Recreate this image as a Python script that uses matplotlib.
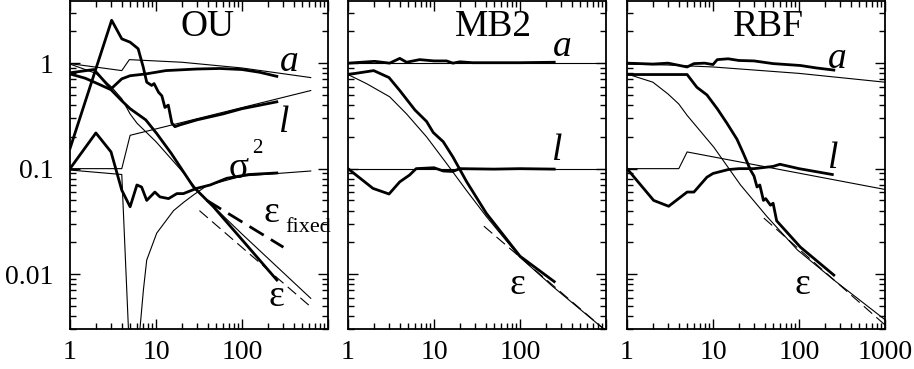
import numpy as np
from matplotlib import pyplot as plt
from matplotlib.ticker import LogLocator, NullFormatter

plt.rcParams.update({"font.family": "Liberation Serif", "font.size": 20})

# ---- OU panel ----
ou_a_th_x = [1, 4, 4.9, 20, 100, 630]
ou_a_th_y = [0.99, 0.85, 1.08, 1.02, 0.9, 0.73]
ou_a_x = [1, 1.9, 3.0, 4.0, 5.0, 7.6, 13, 30, 55, 100, 160, 254]
ou_a_y = [0.81, 0.87, 0.57, 0.71, 0.76, 0.79, 0.85, 0.88, 0.89, 0.87, 0.82, 0.75]
ou_l_th_x = [1, 4, 5, 630]
ou_l_th_y = [0.1, 0.1, 0.207, 0.55]
ou_l_x = [1, 3.05, 4.0, 5.0, 6.2, 7.1, 7.8, 8.9, 9.5, 10.7, 11.7, 12.7, 13.9,
          15.3, 16.6, 19, 30, 60, 100, 254]
ou_l_y = [0.155, 2.55, 1.7, 1.58, 1.37, 0.92, 0.66, 0.615, 0.64, 0.53, 0.49,
          0.38, 0.40, 0.27, 0.25, 0.26, 0.29, 0.33, 0.37, 0.43]
ou_s2_th_x = [1, 4, 4.8, 5.2, 6.3, 6.5, 7.14, 7.8, 10.2, 16, 21, 27, 39, 100, 630]
ou_s2_th_y = [0.097, 0.088, 0.0028, 0.0005, 0.0005, 0.003, 0.0071, 0.0136,
              0.0245, 0.04, 0.048, 0.056, 0.069, 0.085, 0.095]
ou_s2_x = [1, 2.0, 3.0, 4.0, 5.0, 6.0, 6.8, 7.8, 9.7, 11.1, 14, 17.5, 20.8,
           29.7, 42.6, 66.5, 120, 254]
ou_s2_y = [0.1, 0.218, 0.144, 0.0625, 0.0435, 0.07, 0.067, 0.05, 0.06, 0.054,
           0.052, 0.058, 0.058, 0.065, 0.07, 0.081, 0.088, 0.091]
ou_e_th_x = [1, 2, 3, 4, 5, 6, 10, 20, 32.6, 100, 630]
ou_e_th_y = [0.98, 0.8, 0.6, 0.46, 0.33, 0.27, 0.18, 0.095, 0.058, 0.024, 0.0059]
ou_e_x = [1, 1.5, 2, 3, 4, 5, 7.6, 10.2, 15, 27.3, 46.6, 100, 254]
ou_e_y = [0.79, 0.72, 0.65, 0.56, 0.44, 0.37, 0.29, 0.215, 0.14, 0.067, 0.0435,
          0.0212, 0.0088]
ou_asym_x = [32, 630]
ou_asym_y = [0.04, 0.0049]
ou_fixed_x = [39, 303]
ou_fixed_y = [0.05, 0.018]

# ---- MB2 panel ----
mb_a_th_x = [1, 1000]
mb_a_th_y = [1.0, 1.0]
mb_a_x = [1, 2.04, 3.05, 4.0, 4.8, 6.8, 10, 14, 16.6, 20, 28, 56, 100, 250]
mb_a_y = [1.0, 1.04, 1.0, 1.11, 1.02, 1.08, 1.05, 1.05, 1.0, 1.03, 1.01, 1.01,
          1.01, 1.02]
mb_l_th_x = [1, 1000]
mb_l_th_y = [0.1, 0.1]
mb_l_x = [1, 1.95, 3.0, 4.0, 5.2, 6.2, 10, 12.8, 16.5, 20, 50, 100, 250]
mb_l_y = [0.1, 0.065, 0.0575, 0.075, 0.087, 0.1, 0.102, 0.095, 0.094, 0.1,
          0.099, 0.1, 0.099]
mb_e_th_x = [1, 1.64, 3.05, 4.8, 8.2, 14, 23.9, 40.8, 99.6, 242, 1000]
mb_e_th_y = [0.78, 0.64, 0.48, 0.33, 0.2, 0.112, 0.062, 0.035, 0.0145, 0.0076,
             0.0029]
mb_e_x = [1, 1.99, 3.0, 4.0, 6.0, 8.2, 9.8, 12.8, 16.6, 24, 40.8, 100, 250]
mb_e_y = [0.78, 0.85, 0.73, 0.55, 0.36, 0.28, 0.22, 0.18, 0.129, 0.075, 0.0375,
          0.0148, 0.0085]
mb_asym_x = [38, 1000]
mb_asym_y = [0.0285, 0.0029]

# ---- RBF panel ----
rb_a_th_x = [1, 3, 10, 100, 1000]
rb_a_th_y = [0.98, 0.96, 0.92, 0.8, 0.66]
rb_a_x = [1, 2, 3, 5, 6, 8, 10, 11.2, 15, 20, 30, 50, 104, 160, 254]
rb_a_y = [1.0, 0.98, 1.0, 0.92, 0.99, 1.0, 0.97, 1.08, 1.1, 1.06, 1.05, 0.99,
          0.95, 0.9, 0.86]
rb_l_th_x = [1, 4, 5, 1000]
rb_l_th_y = [0.1, 0.1, 0.144, 0.0635]
rb_l_x = [1, 2.04, 3.05, 5, 6, 8.5, 10, 15, 20, 30, 50, 60, 100, 244]
rb_l_y = [0.1, 0.05, 0.044, 0.06, 0.06, 0.083, 0.09, 0.098, 0.1, 0.1, 0.105,
          0.11, 0.1, 0.088]
rb_e_th_x = [1, 2, 3, 4, 5, 10.2, 20.9, 42.6, 95.6, 254, 1000]
rb_e_th_y = [0.79, 0.66, 0.51, 0.41, 0.32, 0.16, 0.07, 0.035, 0.017, 0.0088,
             0.0037]
rb_e_x = [1, 3, 5, 6.5, 8.5, 11.2, 14.5, 19, 22.5, 27.3, 30, 32.5, 35, 38.6,
          41, 46.6, 50, 55, 104, 254]
rb_e_y = [0.78, 0.78, 0.78, 0.59, 0.5, 0.37, 0.27, 0.19, 0.14, 0.097, 0.085,
          0.067, 0.07, 0.05, 0.052, 0.045, 0.047, 0.032, 0.018, 0.0098]
rb_asym_x = [39, 1000]
rb_asym_y = [0.034, 0.0033]

thin, thick = 0.8, 2.0
W, H = 914, 369
lefts = [70, 348, 627]
fig = plt.figure(figsize=(W / 100, H / 100), dpi=100)
axes = [fig.add_axes([l / W, 39.7 / H, 258 / W, 328.5 / H]) for l in lefts]

def style(ax, xlabels, ylabels):
    ax.set_xscale('log')
    ax.set_yscale('log')
    ax.set_xlim(1, 1000)
    ax.set_ylim(0.003, 3.9)
    ax.set_xticks([1, 10, 100, 1000])
    ax.set_xticklabels(xlabels)
    ax.set_yticks([0.01, 0.1, 1])
    ax.set_yticklabels(['0.01', '0.1', '1'] if ylabels else ['', '', ''])
    ax.xaxis.set_minor_locator(LogLocator(base=10, subs=np.arange(2, 10)))
    ax.yaxis.set_minor_locator(LogLocator(base=10, subs=np.arange(2, 10)))
    ax.xaxis.set_minor_formatter(NullFormatter())
    ax.yaxis.set_minor_formatter(NullFormatter())
    ax.tick_params(which='both', direction='in', top=True, right=True, width=1)
    ax.tick_params(which='major', length=7, labelsize=20)
    ax.tick_params(axis='x', which='major', pad=8)
    ax.tick_params(axis='y', which='major', pad=12)
    ax.tick_params(which='minor', length=4)
    for s in ax.spines.values():
        s.set_linewidth(1.3)

k = dict(color='black')
ax = axes[0]
ax.plot(ou_a_th_x, ou_a_th_y, lw=thin, **k)
ax.plot(ou_a_x, ou_a_y, lw=thick, **k)
ax.plot(ou_l_th_x, ou_l_th_y, lw=thin, **k)
ax.plot(ou_l_x, ou_l_y, lw=thick, **k)
ax.plot(ou_s2_th_x, ou_s2_th_y, lw=thin, **k)
ax.plot(ou_s2_x, ou_s2_y, lw=thick, **k)
ax.plot(ou_e_th_x, ou_e_th_y, lw=thin, **k)
ax.plot(ou_e_x, ou_e_y, lw=thick, **k)
ax.plot(ou_asym_x, ou_asym_y, lw=thin, dashes=(10, 5), **k)
ax.plot(ou_fixed_x, ou_fixed_y, lw=thick, dashes=(6, 3), **k)
style(ax, ['1', '10', '100', ''], True)
ax.text(0.533, 0.92, 'OU', transform=ax.transAxes, ha='center', va='center', fontsize=27)
ax.text(0.85, 0.815, 'a', transform=ax.transAxes, ha='center', va='center', fontsize=27, style='italic')
ax.text(0.83, 0.63, 'l', transform=ax.transAxes, ha='center', va='center', fontsize=27, style='italic')
ax.text(0.655, 0.49, 'σ', transform=ax.transAxes, ha='center', va='center', fontsize=27)
ax.text(0.705, 0.55, '2', transform=ax.transAxes, ha='left', va='center', fontsize=15)
ax.text(0.75, 0.355, 'ε', transform=ax.transAxes, ha='left', va='center', fontsize=27)
ax.text(0.835, 0.31, 'fixed', transform=ax.transAxes, ha='left', va='center', fontsize=16, clip_on=False)
ax.text(0.8, 0.1, 'ε', transform=ax.transAxes, ha='center', va='center', fontsize=27)

ax = axes[1]
ax.plot(mb_a_th_x, mb_a_th_y, lw=thin, **k)
ax.plot(mb_a_x, mb_a_y, lw=thick, **k)
ax.plot(mb_l_th_x, mb_l_th_y, lw=thin, **k)
ax.plot(mb_l_x, mb_l_y, lw=thick, **k)
ax.plot(mb_e_th_x, mb_e_th_y, lw=thin, **k)
ax.plot(mb_e_x, mb_e_y, lw=thick, **k)
ax.plot(mb_asym_x, mb_asym_y, lw=thin, dashes=(10, 5), **k)
style(ax, ['1', '10', '100', ''], False)
ax.text(0.562, 0.92, 'MB2', transform=ax.transAxes, ha='center', va='center', fontsize=27)
ax.text(0.83, 0.86, 'a', transform=ax.transAxes, ha='center', va='center', fontsize=27, style='italic')
ax.text(0.81, 0.545, 'l', transform=ax.transAxes, ha='center', va='center', fontsize=27, style='italic')
ax.text(0.655, 0.135, 'ε', transform=ax.transAxes, ha='center', va='center', fontsize=27)

ax = axes[2]
ax.plot(rb_a_th_x, rb_a_th_y, lw=thin, **k)
ax.plot(rb_a_x, rb_a_y, lw=thick, **k)
ax.plot(rb_l_th_x, rb_l_th_y, lw=thin, **k)
ax.plot(rb_l_x, rb_l_y, lw=thick, **k)
ax.plot(rb_e_th_x, rb_e_th_y, lw=thin, **k)
ax.plot(rb_e_x, rb_e_y, lw=thick, **k)
ax.plot(rb_asym_x, rb_asym_y, lw=thin, dashes=(10, 5), **k)
style(ax, ['1', '10', '100', '1000'], False)
ax.text(0.547, 0.92, 'RBF', transform=ax.transAxes, ha='center', va='center', fontsize=27)
ax.text(0.814, 0.825, 'a', transform=ax.transAxes, ha='center', va='center', fontsize=27, style='italic')
ax.text(0.80, 0.52, 'l', transform=ax.transAxes, ha='center', va='center', fontsize=27, style='italic')
ax.text(0.68, 0.135, 'ε', transform=ax.transAxes, ha='center', va='center', fontsize=27)

fig.savefig('out.png', dpi=100)
